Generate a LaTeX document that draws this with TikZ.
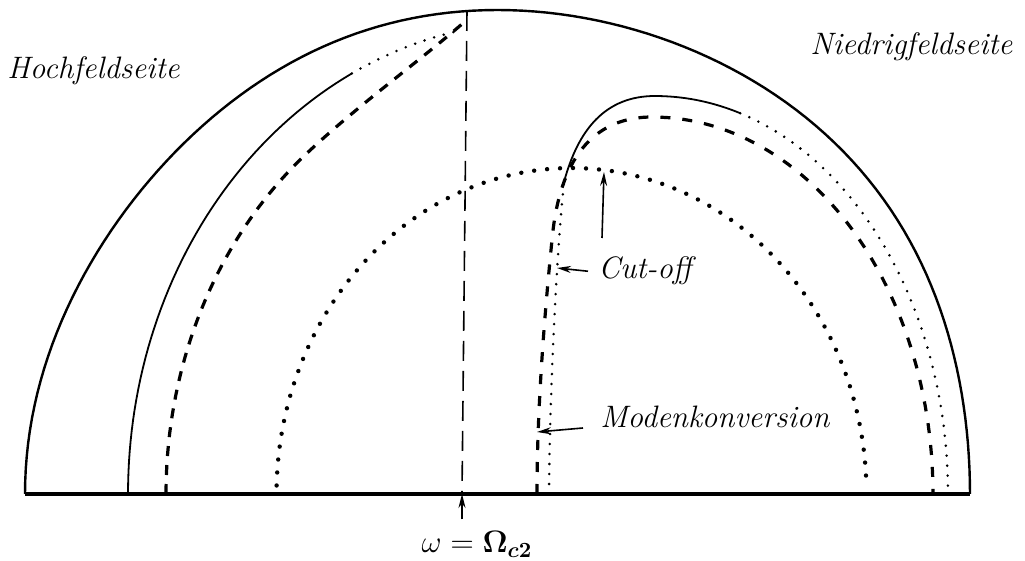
\RequirePackage{fix-cm}
\documentclass[tikz,border=0pt]{standalone}
\usepackage{amsmath}
\usepackage{tikz}
\usetikzlibrary{arrows.meta, calc}

\tikzset{
  rim/.style={line width=1.2pt},
  floor/.style={line width=1.6pt},
  branch/.style={line width=0.9pt},
  longdash/.style={line width=0.8pt, dash pattern=on 10pt off 5pt},
  heavydash/.style={line width=1.6pt, dash pattern=on 5pt off 4.5pt},
  bigdots/.style={line width=2.2pt, line cap=round, dash pattern=on 0pt off 6.5pt},
  finedots/.style={line width=1.4pt, line cap=round, dash pattern=on 0pt off 5pt},
  pointer/.style={line width=0.8pt, -{Stealth[length=7pt, width=3.5pt]}},
  lab/.style={font=\fontsize{15.5}{18}\selectfont\itshape, inner sep=0pt},
}

\begin{document}
\begin{tikzpicture}[x=0.5pt, y=-0.5pt]
  \useasboundingbox (0,0) rectangle (1025,561);

  % frame
  \coordinate (bl) at (25,494);
  \coordinate (br) at (970,494);
  \coordinate (apex) at (467,11);
  \coordinate (wtip) at (462,494);
  \draw[floor] (bl) -- (br);
  \draw[rim] plot[domain=180:0, samples=121] ({497.5+472.5*cos(\x)+12*pow(sin(2*\x),2)}, {494-484*sin(\x)});
  \draw[longdash] (apex) -- (wtip);

  % high field side
  \draw[branch] plot[domain=180:117, samples=50] ({538+410*cos(\x)}, {494-472*sin(\x)});
  \draw[finedots] plot[domain=117:101, samples=15] ({538+410*cos(\x)}, {494-472*sin(\x)});
  \draw[heavydash] plot[domain=180:129.2, samples=40] ({549.5+383.5*cos(\x)}, {494-440*sin(\x)})
    .. controls (357,106) and (422,59) .. (462,24);

  % cut-off branch
  \draw[bigdots] plot[domain=178.5:1.5, samples=100] ({571.5+295*cos(\x)}, {494-326*sin(\x)});

  % low field side
  \draw[heavydash, dash pattern=on 5pt off 6pt] (537,494) .. controls (537,400) and (546,300) .. (552,240)
    .. controls (560,150) and (600,117) .. (652,117)
    -- plot[domain=90:0, samples=60] ({652+281*cos(\x)}, {494-377*sin(\x)});
  \draw[branch] (564,182) .. controls (578,130) and (605,96) .. (655,96)
    -- plot[domain=90:73.1, samples=20] ({655+293*cos(\x)}, {494-398*sin(\x)});
  \draw[finedots] plot[domain=73.1:0, samples=60] ({655+293*cos(\x)}, {494-398*sin(\x)});
  \draw[finedots] (549,494) .. controls (550,380) and (557,250) .. (564,182);

  % labels
  \node[lab, anchor=base west] (hoch) at (7,79) {Hochfeldseite};
  \node[lab, anchor=base west] (niedrig) at (810,55) {Niedrigfeldseite};
  \node[lab, anchor=base west, inner xsep=5pt] (cutoff) at (588,279) {Cut-off};
  \node[lab, anchor=base west, inner xsep=8.5pt] (modenk) at (583,428) {Modenkonversion};
  \node[font=\fontsize{15.5}{18}\selectfont, inner xsep=0pt, inner ysep=6pt, anchor=base] (omega) at (477,553) {$\omega = \mathbf{\Omega}_{\boldsymbol{c}\mathbf{2}}$};

  % arrows
  \coordinate (cotip) at (557,268);
  \coordinate (mktip) at (537,432);
  \coordinate (cutpt) at (604,172);
  \coordinate (cutfoot) at (602,238);
  \draw[pointer] (cutoff.west) -- (cotip);
  \draw[pointer] (modenk.base west) -- (mktip);
  \draw[pointer] (cutfoot) -- (cutpt);
  \draw[pointer] (wtip |- omega.north) -- (wtip);
\end{tikzpicture}
\end{document}
